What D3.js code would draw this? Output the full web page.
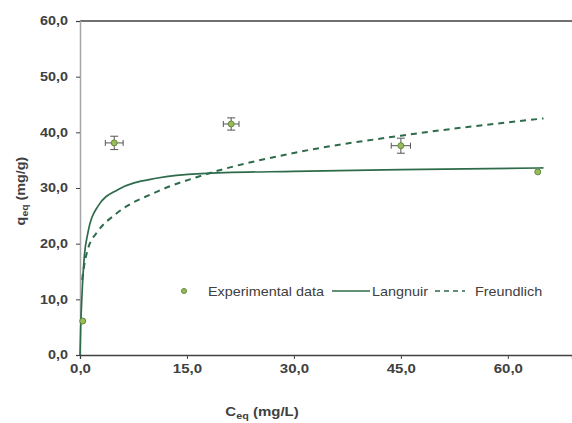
<!DOCTYPE html>
<html>
<head>
<meta charset="utf-8">
<script src="https://cdn.jsdelivr.net/npm/d3@7"></script>
<style>
  body { margin: 0; background: #fff; }
  text { font-family: "Liberation Sans", Arial, sans-serif; fill: #404040; }
</style>
</head>
<body>
<svg id="chart" width="572" height="423"></svg>
<script>
// experimental points
var ceq = [0.38, 4.8, 21.2, 45.0, 64.2];
var qeq = [6.1, 38.1, 41.5, 37.6, 32.9];
var ceqErr = [0, 1.25, 1.1, 1.35, 0];
var qeqErr = [0, 1.2, 1.1, 1.35, 0];

// fitted curves
var langC = [0, 0.1, 0.25, 0.56, 1.1, 2.5, 5.3, 10.9, 17, 30, 45, 65];
var langQ = [0, 5, 10, 17, 21.9, 26.7, 29.7, 31.8, 32.6, 33.0, 33.3, 33.6];
var freuC = [0.3, 0.6, 1.1, 2.5, 5, 10.9, 17, 30, 45, 65];
var freuQ = [13.5, 16.2, 19.0, 22.2, 25.3, 29.4, 32.2, 36.3, 39.4, 42.5];

var xTicks = [0, 15, 30, 45, 60];
var yTicks = [0, 10, 20, 30, 40, 50, 60];

var svg = d3.select("#chart");
var x = d3.scaleLinear().domain([0, 69]).range([80, 572]);
var y = d3.scaleLinear().domain([0, 60]).range([355, 21]);
var fmt = function(d) { return d3.format(".1f")(d).replace(".", ","); };
var lineColor = "#2e6b4a";
var stretch = 1.2; // text in the original is a bit wide

// top frame line
svg.append("line")
	.attr("x1", 80).attr("x2", 572).attr("y1", y(60)).attr("y2", y(60))
	.attr("stroke", "#404040").attr("stroke-width", 1.3);

// y axis
var yAxis = svg.append("g")
	.attr("transform", "translate(80,0)")
	.call(d3.axisLeft(y).tickValues(yTicks).tickFormat(fmt).tickSize(4).tickPadding(6));
yAxis.select(".domain").attr("stroke", "#a6a6a6").attr("stroke-width", 1.5);
yAxis.selectAll(".tick line").attr("stroke", "#404040");
yAxis.selectAll("text").style("font-size", "12px").style("font-weight", "bold")
	.style("font-family", "Liberation Sans, Arial, sans-serif").attr("fill", "#404040")
	.attr("transform", "scale(" + stretch + ",1)");

// x axis
var xAxis = svg.append("g")
	.attr("transform", "translate(0,355)")
	.call(d3.axisBottom(x).tickValues(xTicks).tickFormat(fmt).tickSize(4).tickPadding(5));
xAxis.select(".domain").attr("stroke", "#404040").attr("stroke-width", 1.3);
xAxis.selectAll(".tick line").attr("stroke", "#404040");
xAxis.selectAll("text").style("font-size", "12.5px").style("font-weight", "bold")
	.style("font-family", "Liberation Sans, Arial, sans-serif").attr("fill", "#404040")
	.attr("transform", "scale(" + stretch + ",1)");

// axis titles
var xt = svg.append("text").attr("transform", "translate(262,416) scale(" + stretch + ",1)")
	.attr("text-anchor", "middle").style("font-size", "12.5px").style("font-weight", "bold");
xt.append("tspan").text("C");
xt.append("tspan").attr("dy", 3).style("font-size", "9px").text("eq");
xt.append("tspan").attr("dy", -3).text(" (mg/L)");

var yt = svg.append("text").attr("transform", "translate(25,191) rotate(-90) scale(1.15,1)")
	.attr("text-anchor", "middle").style("font-size", "12.5px").style("font-weight", "bold");
yt.append("tspan").text("q");
yt.append("tspan").attr("dy", 3).style("font-size", "9px").text("eq");
yt.append("tspan").attr("dy", -3).text(" (mg/g)");

// curves
var line = d3.line().x(function(d) { return x(d[0]); }).y(function(d) { return y(d[1]); })
	.curve(d3.curveMonotoneX);
svg.append("path").datum(d3.zip(freuC, freuQ)).attr("d", line)
	.attr("fill", "none").attr("stroke", lineColor).attr("stroke-width", 2)
	.attr("stroke-dasharray", "6,5");
svg.append("path").datum(d3.zip(langC, langQ)).attr("d", line)
	.attr("fill", "none").attr("stroke", lineColor).attr("stroke-width", 1.7);

// error bars
var pts = ceq.map(function(c, i) { return { c: c, q: qeq[i], ce: ceqErr[i], qe: qeqErr[i] }; })
var eb = svg.append("g").attr("stroke", "#555").attr("stroke-width", 1);
pts.filter(function(d) { return d.ce > 0; }).forEach(function(d) {
	var cx = x(d.c), cy = y(d.q);
	var x0 = x(d.c - d.ce), x1 = x(d.c + d.ce), y0 = y(d.q - d.qe), y1 = y(d.q + d.qe);
	eb.append("line").attr("x1", x0).attr("x2", x1).attr("y1", cy).attr("y2", cy);
	eb.append("line").attr("x1", cx).attr("x2", cx).attr("y1", y0).attr("y2", y1);
	eb.append("line").attr("x1", x0).attr("x2", x0).attr("y1", cy - 3).attr("y2", cy + 3);
	eb.append("line").attr("x1", x1).attr("x2", x1).attr("y1", cy - 3).attr("y2", cy + 3);
	eb.append("line").attr("x1", cx - 4).attr("x2", cx + 4).attr("y1", y0).attr("y2", y0);
	eb.append("line").attr("x1", cx - 4).attr("x2", cx + 4).attr("y1", y1).attr("y2", y1);
});

// markers
svg.selectAll("circle.pt").data(pts).enter().append("circle")
	.attr("class", "pt")
	.attr("cx", function(d) { return x(d.c); })
	.attr("cy", function(d) { return y(d.q); })
	.attr("r", 3)
	.attr("fill", "#9bbb59").attr("stroke", "#5f8a3a").attr("stroke-width", 1);

// legend
var lg = svg.append("g").attr("transform", "translate(0,291)");
var legendText = function(px, str) {
	lg.append("text").attr("transform", "translate(" + px + ",4.5) scale(" + stretch + ",1)")
		.style("font-size", "12px").text(str);
};
lg.append("circle").attr("cx", 184).attr("cy", 0).attr("r", 2.5)
	.attr("fill", "#9bbb59").attr("stroke", "#5f8a3a").attr("stroke-width", 1);
legendText(208, "Experimental data");
lg.append("line").attr("x1", 332).attr("x2", 370).attr("y1", 0).attr("y2", 0)
	.attr("stroke", lineColor).attr("stroke-width", 1.7);
legendText(372, "Langnuir");
lg.append("line").attr("x1", 435).attr("x2", 465).attr("y1", 0).attr("y2", 0)
	.attr("stroke", lineColor).attr("stroke-width", 1.5).attr("stroke-dasharray", "5,4");
legendText(475, "Freundlich");
</script>
</body>
</html>
